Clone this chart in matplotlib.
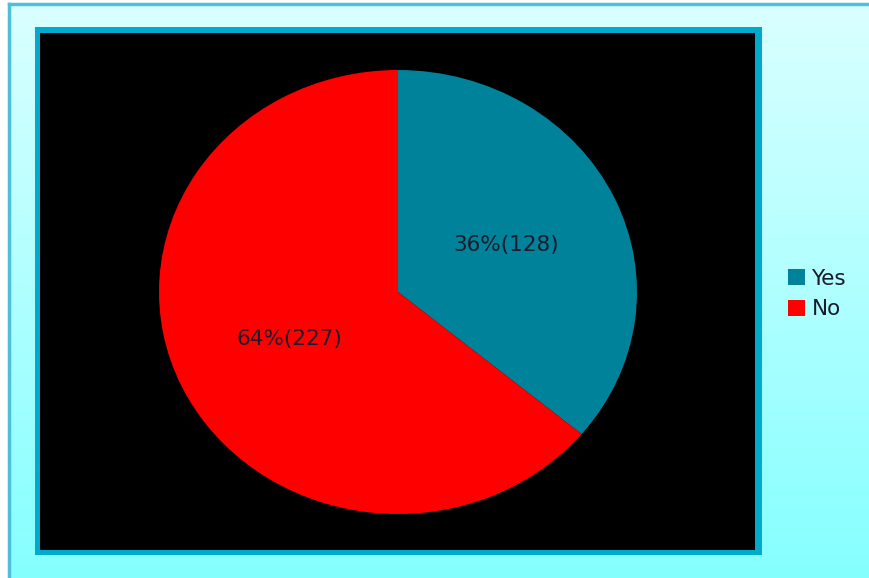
import numpy as np
import matplotlib
matplotlib.use("Agg")
import matplotlib.pyplot as plt
from matplotlib.patches import Rectangle
from matplotlib.colors import LinearSegmentedColormap

labels = ["Yes", "No"]
counts = [128, 227]
colors = ["#00829A", "#FF0000"]

W, H = 870, 578
fig = plt.figure(figsize=(W / 100, H / 100), dpi=100)
fig.patch.set_facecolor("white")


def fx(px):
    return px / W


def fy(py):
    return 1 - py / H


# outer chart area with a vertical gradient
bg = fig.add_axes([fx(9), fy(578), fx(870) - fx(9), fy(4) - fy(578)])
bg.set_zorder(-5)
cmap = LinearSegmentedColormap.from_list("bg", ["#86FFFF", "#DAFFFF"])
bg.imshow(np.linspace(0, 1, 256).reshape(-1, 1), aspect="auto", cmap=cmap,
          origin="lower", extent=[0, 1, 0, 1])
bg.set_xlim(0, 1)
bg.set_ylim(0, 1)
bg.set_xticks([])
bg.set_yticks([])
for s in bg.spines.values():
    s.set_visible(False)
bg.plot([0, 1], [1, 1], color="#4CC0DA", lw=2.5, clip_on=False)
bg.plot([0, 0], [0, 1], color="#4CC0DA", lw=2.5, clip_on=False)

# plot area: cyan frame + black fill
fig.patches.append(Rectangle((fx(35), fy(555)), fx(762) - fx(35), fy(27) - fy(555),
                             transform=fig.transFigure, facecolor="#00AACC",
                             edgecolor="none", zorder=-2))
fig.patches.append(Rectangle((fx(40), fy(550)), fx(755) - fx(40), fy(33) - fy(550),
                             transform=fig.transFigure, facecolor="black",
                             edgecolor="none", zorder=-1))

# pie (slightly stretched horizontally, like the original)
cx, cy, rx, ry = 398, 292, 239, 222
ax = fig.add_axes([fx(cx - rx), fy(cy + ry), 2 * rx / W, 2 * ry / H])
ax.set_zorder(2)
ax.set_facecolor("none")
wedges, _ = ax.pie(counts, colors=colors, startangle=90, counterclock=False,
                   radius=1.0, wedgeprops=dict(linewidth=0))
ax.set_aspect("auto")
ax.set_xlim(-1, 1)
ax.set_ylim(-1, 1)
ax.axis("off")

total = sum(counts)
angle = 90
for c in counts:
    sweep = 360 * c / total
    mid = np.deg2rad(angle - sweep / 2)
    angle -= sweep
    ax.text(0.5 * np.cos(mid), 0.5 * np.sin(mid),
            f"{round(100 * c / total)}%({c})", ha="center", va="center",
            fontsize=15.5, color="#1A1A2A")

# legend
leg = fig.legend(wedges, labels, loc="center left",
                 bbox_to_anchor=(fx(777), fy(294)), frameon=False,
                 fontsize=15.5, handlelength=0.8, handleheight=0.8,
                 handletextpad=0.3, labelspacing=0.5, borderpad=0)
for t in leg.get_texts():
    t.set_color("#1A1A2A")

fig.savefig("out.png", dpi=100)
